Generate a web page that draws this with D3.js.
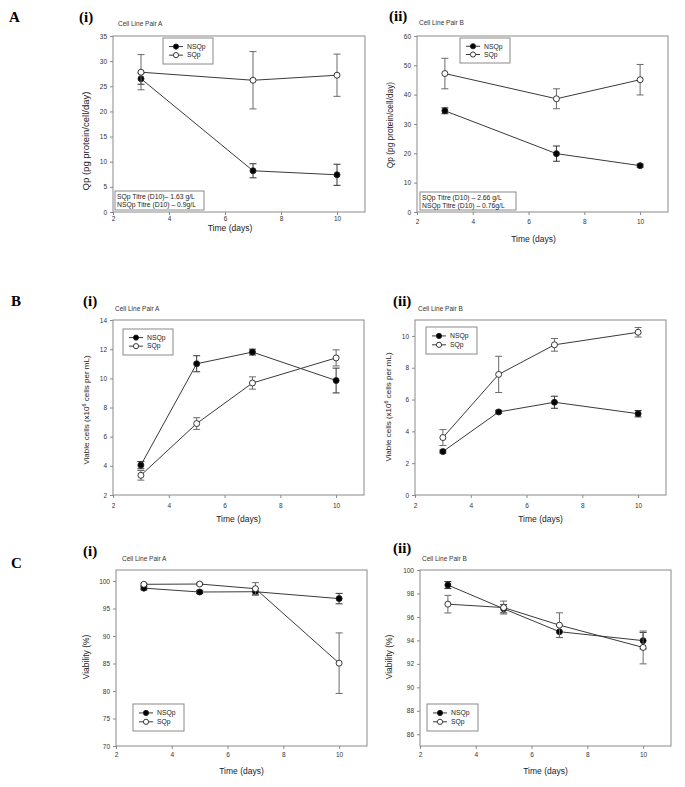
<!DOCTYPE html>
<html><head><meta charset="utf-8">
<script src="https://cdn.jsdelivr.net/npm/d3@7"></script>
<style>body{margin:0;background:#fff}svg{display:block}</style>
</head><body>
<svg id="c" width="685" height="787"></svg>
<script>
// ---- data ----
const daysA = [3, 7, 10];
const daysBC = [3, 5, 7, 10];
const xTicks = [2, 4, 6, 8, 10];

const qpA_NSQp = [26.5, 8.2, 7.4];   const qpA_NSQp_err = [1.1, 1.4, 2.1];
const qpA_SQp  = [27.8, 26.2, 27.2]; const qpA_SQp_err  = [3.5, 5.7, 4.2];
const qpB_NSQp = [34.5, 19.9, 15.8]; const qpB_NSQp_err = [1.0, 2.6, 0.5];
const qpB_SQp  = [47.2, 38.6, 45.1]; const qpB_SQp_err  = [5.2, 3.4, 5.2];

const vcA_NSQp = [4.05, 11.0, 11.8, 9.85]; const vcA_NSQp_err = [0.25, 0.55, 0.2, 0.85];
const vcA_SQp  = [3.35, 6.9, 9.68, 11.4];  const vcA_SQp_err  = [0.33, 0.4, 0.42, 0.55];
const vcB_NSQp = [2.73, 5.22, 5.83, 5.11]; const vcB_NSQp_err = [0.1, 0.1, 0.38, 0.2];
const vcB_SQp  = [3.61, 7.58, 9.44, 10.23]; const vcB_SQp_err = [0.5, 1.14, 0.4, 0.3];

const viA_NSQp = [98.7, 98.0, 98.05, 96.8]; const viA_NSQp_err = [0.3, 0.3, 0.6, 0.95];
const viA_SQp  = [99.4, 99.45, 98.6, 85.06]; const viA_SQp_err = [0.2, 0.2, 1.1, 5.5];
const viB_NSQp = [98.72, 96.7, 94.74, 93.98]; const viB_NSQp_err = [0.3, 0.35, 0.5, 0.7];
const viB_SQp  = [97.09, 96.8, 95.3, 93.4];  const viB_SQp_err  = [0.75, 0.55, 1.05, 1.4];

const seriesNames = ["NSQp", "SQp"];
const titresA = ["SQp Titre (D10)\u2013 1.63 g/L", "NSQp Titre (D10) \u2013 0.9g/L"];
const titresB = ["SQp Titre (D10) \u2013 2.66 g/L", "NSQp Titre (D10) \u2013 0.76g/L"];

// ---- panels (layout) ----
const panels = [
  {row:"A", sub:"(i)", title:"Cell Line Pair A", x:[113,365], y:[212,36], xd:[2,11], yd:[0,35], yt:d3.range(0,36,5),
   ylab:"Qp", days:daysA, s:[[qpA_NSQp,qpA_NSQp_err],[qpA_SQp,qpA_SQp_err]], leg:[163,38,50,26], titre:[titresA,115,191,89,19],
   ylx:89, yly:141, ylfs:9.5, tlc:7, xly:231, xlo:-9, subx:79, suby:22, tx:118, ty:26, rowy:22},
  {sub:"(ii)", title:"Cell Line Pair B", x:[417,668], y:[212,36], xd:[2,11], yd:[0,60], yt:d3.range(0,61,10),
   ylab:"Qp", days:daysA, s:[[qpB_NSQp,qpB_NSQp_err],[qpB_SQp,qpB_SQp_err]], leg:[460,38,50,25], titre:[titresB,420,192,96,18],
   ylx:393, yly:125, ylfs:8.3, tlc:10, xly:242, xlo:-9, subx:389, suby:21, tx:419, ty:25},
  {row:"B", sub:"(i)", title:"Cell Line Pair A", x:[113,364], y:[495,320], xd:[2,11], yd:[2,14], yt:d3.range(2,15,2),
   ylab:"VC", days:daysBC, s:[[vcA_NSQp,vcA_NSQp_err],[vcA_SQp,vcA_SQp_err]], leg:[123,329,50,26],
   ylx:89, yly:410, ylfs:8, tlc:11, xly:522, xlo:0, subx:83, suby:306, tx:115, ty:311, rowy:306},
  {sub:"(ii)", title:"Cell Line Pair B", x:[415,666], y:[495,320], xd:[2,11], yd:[0,11], yt:d3.range(0,11,2),
   ylab:"VC", days:daysBC, s:[[vcB_NSQp,vcB_NSQp_err],[vcB_SQp,vcB_SQp_err]], leg:[426,327,51,27],
   ylx:391, yly:407, ylfs:8, tlc:11, xly:522, xlo:0, subx:393, suby:306, tx:418, ty:311},
  {row:"C", sub:"(i)", title:"Cell Line Pair A", x:[116,367], y:[746,570], xd:[2,11], yd:[70,102], yt:d3.range(70,101,5),
   ylab:"Via", days:daysBC, s:[[viA_NSQp,viA_NSQp_err],[viA_SQp,viA_SQp_err]], leg:[133,704,51,27],
   ylx:89, yly:657, ylfs:8.5, tlc:9, xly:774, xlo:0, subx:83, suby:556, tx:122, ty:561, rowy:568},
  {sub:"(ii)", title:"Cell Line Pair B", x:[420,671], y:[746,570], xd:[2,11], yd:[85,100], yt:d3.range(86,101,2),
   ylab:"Via", days:daysBC, s:[[viB_NSQp,viB_NSQp_err],[viB_SQp,viB_SQp_err]], leg:[427,704,51,27],
   ylx:392, yly:657, ylfs:8.5, tlc:9, xly:774, xlo:0, subx:393, suby:553, tx:422, ty:561}
];

const svg = d3.select("#c");
const SANS = "Liberation Sans, Arial, sans-serif";
const SERIF = "Liberation Serif, Times New Roman, serif";
const frameCol = "#8a8a8a", lineCol = "#3a3a3a", tickTxt = "#333";

panels.forEach(p => {
  const g = svg.append("g");
  const xs = d3.scaleLinear().domain(p.xd).range(p.x);
  const ys = d3.scaleLinear().domain(p.yd).range(p.y);

  // panel labels
  if (p.row) g.append("text").attr("x", p.row==="A"?9:11).attr("y", p.rowy).attr("font-family", SERIF)
      .attr("font-weight","bold").attr("font-size",15).text(p.row);
  g.append("text").attr("x", p.subx).attr("y", p.suby).attr("font-family", SERIF)
      .attr("font-weight","bold").attr("font-size",15).text(p.sub);
  g.append("text").attr("x", p.tx).attr("y", p.ty).attr("font-family", SANS)
      .attr("font-size",6.5).attr("fill","#333").text(p.title);

  // frame
  g.append("rect").attr("x", p.x[0]).attr("y", p.y[1]).attr("width", p.x[1]-p.x[0]).attr("height", p.y[0]-p.y[1])
    .attr("fill","none").attr("stroke",frameCol).attr("stroke-width",1);

  // axes
  const xa = g.append("g").attr("transform",`translate(0,${p.y[0]})`)
    .call(d3.axisBottom(xs).tickValues(xTicks).tickSize(3));
  const ya = g.append("g").attr("transform",`translate(${p.x[0]},0)`)
    .call(d3.axisLeft(ys).tickValues(p.yt).tickSize(3).tickPadding(3));
  [xa, ya].forEach(a => {
    a.select(".domain").remove();
    a.selectAll("line").attr("stroke", frameCol);
    a.selectAll("text").attr("font-family", SANS).attr("font-size", 6.5).attr("fill", tickTxt);
  });
  xa.selectAll("text").attr("y", p.tlc).attr("dy", "0.35em");

  // axis labels
  g.append("text").attr("x", (p.x[0] + p.x[1]) / 2 + p.xlo).attr("y", p.xly).attr("text-anchor","middle")
    .attr("font-family", SANS).attr("font-size", 8.5).attr("fill","#222").text("Time (days)");
  const yl = g.append("text").attr("transform", `translate(${p.ylx},${p.yly}) rotate(-90)`).attr("text-anchor","middle")
    .attr("font-family", SANS).attr("font-size", p.ylfs).attr("fill","#222");
  if (p.ylab === "Qp") yl.text("Qp (pg protein/cell/day)");
  else if (p.ylab === "Via") yl.text("Viability (%)");
  else {
    yl.append("tspan").text("Viable cells (x10");
    yl.append("tspan").attr("dy", -3).attr("font-size", 5.5).text("6");
    yl.append("tspan").attr("dy", 3).text(" cells per mL)");
  }

  // series
  p.s.forEach(([vals, errs], si) => {
    const pts = p.days.map((d, i) => ({d, v: vals[i], e: errs[i]}));
    const errCol = si === 0 ? "#333" : "#6a6a6a";
    const eg = g.append("g").attr("stroke", errCol).attr("stroke-width", 1);
    pts.forEach(pt => {
      const cx = xs(pt.d);
      eg.append("line").attr("x1",cx).attr("x2",cx).attr("y1",ys(pt.v-pt.e)).attr("y2",ys(pt.v+pt.e));
      [pt.v-pt.e, pt.v+pt.e].forEach(vv => eg.append("line").attr("x1",cx-3.5).attr("x2",cx+3.5).attr("y1",ys(vv)).attr("y2",ys(vv)));
    });
    g.append("path").datum(pts).attr("fill","none").attr("stroke", lineCol).attr("stroke-width",1)
      .attr("d", d3.line().x(q => xs(q.d)).y(q => ys(q.v)));
    g.selectAll(null).data(pts).join("circle").attr("cx", q => xs(q.d)).attr("cy", q => ys(q.v)).attr("r", 3)
      .attr("fill", si === 0 ? "#000" : "#fff").attr("stroke", "#222").attr("stroke-width", 0.9);
  });

  // legend
  const [lx, ly, lw, lh] = p.leg;
  const lg = g.append("g");
  lg.append("rect").attr("x", lx).attr("y", ly).attr("width", lw).attr("height", lh)
    .attr("fill","none").attr("stroke", frameCol).attr("stroke-width", 1);
  seriesNames.forEach((nm, i) => {
    const yy = ly + lh * (i === 0 ? 0.33 : 0.66);
    lg.append("line").attr("x1", lx+6).attr("x2", lx+20).attr("y1", yy).attr("y2", yy).attr("stroke", lineCol);
    lg.append("circle").attr("cx", lx+13).attr("cy", yy).attr("r", 2.6)
      .attr("fill", i === 0 ? "#000" : "#fff").attr("stroke", "#222").attr("stroke-width", 0.9);
    lg.append("text").attr("x", lx+24).attr("y", yy+2.3).attr("font-family", SANS).attr("font-size", 6.8)
      .attr("fill","#222").text(nm);
  });

  // titre box
  if (p.titre) {
    const [lines, tx, ty, tw, th] = p.titre;
    g.append("rect").attr("x", tx).attr("y", ty).attr("width", tw).attr("height", th)
      .attr("fill","#fff").attr("stroke", frameCol).attr("stroke-width", 1);
    lines.forEach((t, i) => g.append("text").attr("x", tx+2).attr("y", ty + 7.5 + i*8.5)
      .attr("font-family", SANS).attr("font-size", 6.8).attr("fill","#222").text(t));
  }
});
</script>
</body></html>
